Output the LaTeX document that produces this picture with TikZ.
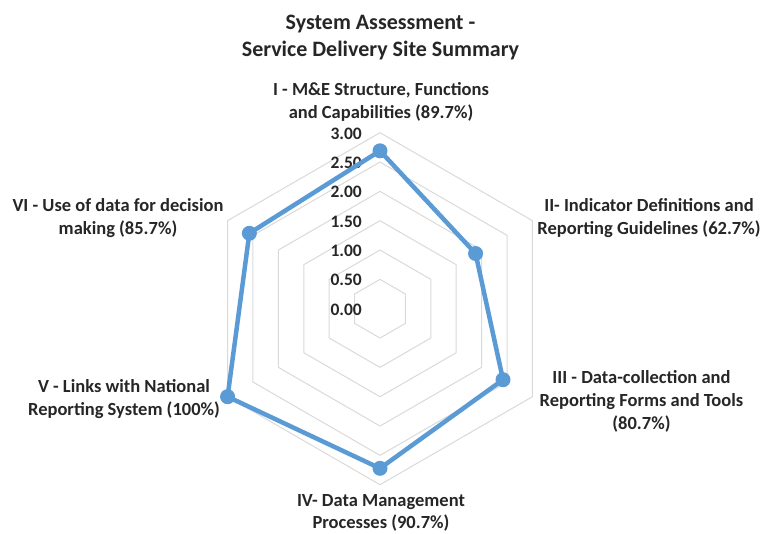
\documentclass[tikz,border=0pt]{standalone}
\usepackage{fontspec}
\usetikzlibrary{calc}
\setmainfont{Carlito}
\definecolor{serieblue}{HTML}{5B9BD5}
\definecolor{gridgray}{HTML}{D9D9D9}
\definecolor{txt}{HTML}{262626}
\begin{document}
\begin{tikzpicture}[x=1pt,y=1pt,
  lbl/.style={align=center,inner sep=0pt,anchor=base,text=txt,font=\bfseries\fontsize{18.5}{22.5}\selectfont},
  ttl/.style={align=center,inner sep=0pt,anchor=base,text=txt,font=\bfseries\fontsize{22}{27}\selectfont},
  tick/.style={inner sep=0pt,anchor=base east,text=txt,font=\bfseries\fontsize{17.5}{20}\selectfont},
  ring/.style={draw=gridgray,line width=1pt},
  serie/.style={draw=serieblue,line width=4.5pt,line join=round},
  dot/.style={circle,fill=serieblue,inner sep=0pt,minimum size=15pt}]
\useasboundingbox (0,0) rectangle (760,533);
\coordinate (c) at (380,224.3);
\def\u{58.67}
% grid rings
\foreach \r in {0.5,1,1.5,2,2.5,3}{
  \draw[ring] ($(c)+(90:\r*\u)$) \foreach \a in {30,-30,-90,210,150}{ -- ($(c)+(\a:\r*\u)$)} -- cycle;
}
% tick labels
\foreach \v/\s/\n in {0/0.00/t0,0.5/0.50/t1,1/1.00/t2,1.5/1.50/t3,2/2.00/t4,2.5/2.50/t5,3/3.00/t6}{
  \pgfmathsetmacro{\yy}{224.3+\v*\u-6.5}
  \node[tick] (\n) at (362,\yy) {\s};
}
% data points
\coordinate (p1) at ($(c)+(90:2.691*\u)$);
\coordinate (p2) at ($(c)+(30:1.881*\u)$);
\coordinate (p3) at ($(c)+(-30:2.421*\u)$);
\coordinate (p4) at ($(c)+(-90:2.721*\u)$);
\coordinate (p5) at ($(c)+(210:3.0*\u)$);
\coordinate (p6) at ($(c)+(150:2.571*\u)$);
\draw[serie] (p1) -- (p2) -- (p3) -- (p4) -- (p5) -- (p6) -- cycle;
\foreach \p in {p1,p2,p3,p4,p5,p6}{ \node[dot] (d\p) at (\p) {}; }
% title
\node[ttl] (title) at (380.5,476.5) {System Assessment -\\Service Delivery Site Summary};
% axis labels
\node[lbl] (l1) at (381,414.5) {I - M\&E Structure, Functions\\and Capabilities (89.7\%)};
\node[lbl] (l2) at (649,298.5) {II- Indicator Definitions and\\Reporting Guidelines (62.7\%)};
\node[lbl] (l3) at (641.5,104) {III - Data-collection and\\Reporting Forms and Tools\\(80.7\%)};
\node[lbl] (l4) at (381,4.5) {IV- Data Management\\Processes (90.7\%)};
\node[lbl] (l5) at (124,117.5) {V - Links with National\\Reporting System (100\%)};
\node[lbl] (l6) at (118,298.5) {VI - Use of data for decision\\making (85.7\%)};
\end{tikzpicture}
\end{document}
